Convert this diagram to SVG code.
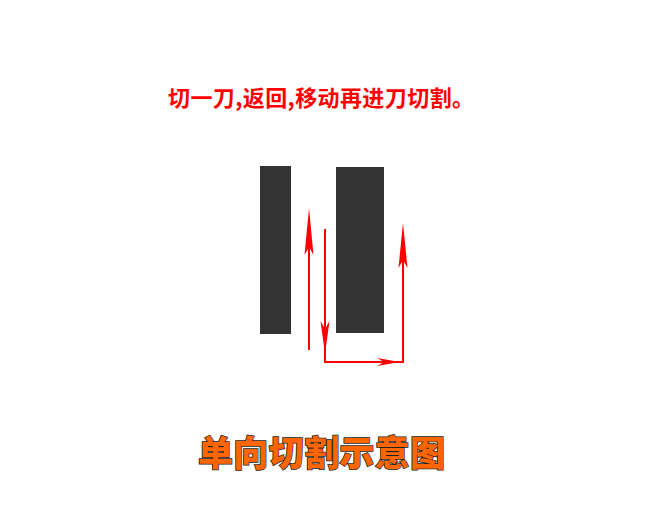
<svg xmlns="http://www.w3.org/2000/svg" width="670" height="518" viewBox="0 0 670 518">
<style>
.bar{fill:#333333}
.ln{stroke:#ff0000;stroke-width:2;fill:none}
.hd{fill:#ff0000}
.cap{font-family:"Noto Sans CJK SC","Liberation Sans",sans-serif;font-weight:bold;font-size:22px;fill:#ff0000}
.ttl{font-family:"Noto Sans CJK SC","Liberation Sans",sans-serif;font-weight:900;font-size:35px;fill:#ff6600;stroke:#222222;stroke-width:1.5;paint-order:stroke}
</style>
<rect width="670" height="518" fill="#ffffff"/>
<g id="caption"><text class="cap" x="168" y="106" textLength="306" lengthAdjust="spacing">切一刀,返回,移动再进刀切割。</text></g>
<g id="bar-left"><rect class="bar" x="260" y="166" width="31" height="168"/></g>
<g id="bar-right"><rect class="bar" x="336" y="167" width="48" height="166"/></g>
<g id="connectors">
<path class="ln" d="M309 350 V222"/>
<path class="hd" d="M309 208 L313.5 255 L309 247 L304.5 255 Z"/>
<path class="ln" d="M325 229 V362 H403 V236"/>
<path class="hd" d="M325 354 L320.5 321 L325 329 L329.5 321 Z"/>
<path class="hd" d="M400 362 L377 358 L384 362 L377 366 Z"/>
<path class="hd" d="M403 223 L407.5 268 L403 260 L398.5 268 Z"/>
</g>
<g id="title"><text class="ttl" x="198" y="466" textLength="247" lengthAdjust="spacing">单向切割示意图</text></g>
</svg>
